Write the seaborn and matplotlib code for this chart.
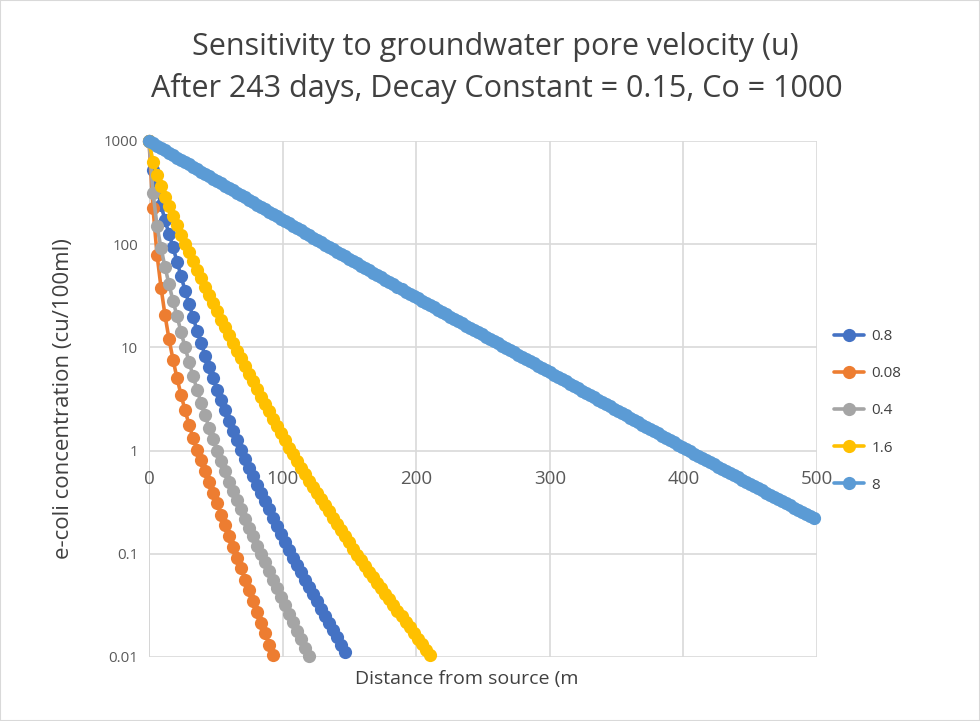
import numpy as np
import pandas as pd
import matplotlib
matplotlib.use("Agg")
import matplotlib.pyplot as plt
from matplotlib.lines import Line2D
from matplotlib.patches import Rectangle
import seaborn as sns

# distance grid used in the sheet (m)
STEP = 3
distance = list(range(0, 501, STEP))

# e-coli concentration (cu/100ml) per pore velocity
conc_u08 = [1000, 525, 347, 240, 170, 126, 93.3, 67.6, 49.0, 35.5, 26.3, 19.5,
            14.5, 11.0, 8.32, 6.46, 5.01, 3.89, 3.09, 2.45, 1.95, 1.55, 1.26, 1.02,
            0.832, 0.684, 0.562, 0.468, 0.389, 0.324, 0.269, 0.224, 0.186, 0.155,
            0.129, 0.108, 0.0912, 0.0776, 0.0661, 0.0562, 0.0479, 0.0407, 0.0347,
            0.0295, 0.0251, 0.0214, 0.0182, 0.0155, 0.0132, 0.0112]

conc_u008 = [1000, 224, 79.4, 38.0, 20.4, 12.0, 7.59, 5.01, 3.47, 2.45, 1.78, 1.32,
             1.02, 0.804, 0.631, 0.501, 0.389, 0.309, 0.240, 0.191, 0.148, 0.117,
             0.0912, 0.0724, 0.0562, 0.0447, 0.0347, 0.0275, 0.0214, 0.0170,
             0.0132, 0.0105]

conc_u04 = [1000, 316, 151, 91.2, 60.3, 40.7, 28.2, 20.0, 14.1, 10.0, 7.24, 5.25,
            3.89, 2.88, 2.19, 1.66, 1.29, 1.00, 0.794, 0.631, 0.501, 0.407, 0.331,
            0.269, 0.219, 0.178, 0.148, 0.120, 0.100, 0.0832, 0.0676, 0.0562,
            0.0468, 0.0380, 0.0316, 0.0263, 0.0219, 0.0178, 0.0148, 0.0123, 0.0102]

conc_u16 = [1000, 631, 468, 363, 288, 232, 188, 153, 124, 101, 83.2, 68.4, 56.2,
            46.8, 38.9, 32.4, 26.9, 22.4, 18.6, 15.7, 13.2, 11.1, 9.33, 7.85, 6.61,
            5.56, 4.68, 3.94, 3.31, 2.82, 2.40, 2.04, 1.74, 1.48, 1.26, 1.07, 0.923,
            0.794, 0.684, 0.589, 0.513, 0.447, 0.389, 0.339, 0.295, 0.257, 0.224,
            0.195, 0.170, 0.148, 0.129, 0.112, 0.0977, 0.0863, 0.0762, 0.0673,
            0.0594, 0.0525, 0.0463, 0.0409, 0.0361, 0.0319, 0.0282, 0.0249, 0.0220,
            0.0194, 0.0171, 0.0151, 0.0134, 0.0118, 0.0104]

conc_u8 = [1000, 949, 900, 854, 811, 769, 730, 692, 657, 623, 592, 561, 533, 505,
           480, 455, 432, 410, 389, 369, 350, 332, 315, 299, 284, 269, 255, 242, 230,
           218, 207, 196, 186, 177, 168, 159, 151, 143, 136, 129, 122, 116, 110, 105,
           99.3, 94.2, 89.4, 84.8, 80.5, 76.4, 72.4, 68.7, 65.2, 61.9, 58.7, 55.7,
           52.9, 50.2, 47.6, 45.2, 42.9, 40.7, 38.6, 36.6, 34.7, 33.0, 31.3, 29.8,
           28.3, 26.9, 25.6, 24.4, 23.2, 22.0, 21.0, 19.9, 19.0, 18.1, 17.2, 16.3,
           15.5, 14.8, 14.1, 13.4, 12.7, 12.1, 11.5, 11.0, 10.4, 9.91, 9.43, 8.97,
           8.53, 8.12, 7.72, 7.34, 6.99, 6.64, 6.32, 6.01, 5.72, 5.44, 5.17, 4.92,
           4.68, 4.44, 4.23, 4.02, 3.82, 3.63, 3.45, 3.29, 3.12, 2.97, 2.82, 2.69,
           2.55, 2.43, 2.31, 2.19, 2.09, 1.98, 1.89, 1.79, 1.71, 1.62, 1.54, 1.47,
           1.39, 1.33, 1.26, 1.20, 1.14, 1.08, 1.03, 0.983, 0.937, 0.893, 0.851,
           0.810, 0.772, 0.736, 0.701, 0.668, 0.636, 0.606, 0.578, 0.550, 0.524,
           0.500, 0.476, 0.453, 0.432, 0.412, 0.392, 0.374, 0.356, 0.339, 0.323,
           0.308, 0.294, 0.280, 0.267, 0.254, 0.242, 0.230, 0.220]

series_labels = ["0.8", "0.08", "0.4", "1.6", "8"]
series_values = [conc_u08, conc_u008, conc_u04, conc_u16, conc_u8]
series_colors = ["#4472C4", "#ED7D31", "#A5A5A5", "#FFC000", "#5B9BD5"]

y_ticks = [0.01, 0.1, 1, 10, 100, 1000]
y_ticklabels = ["0.01", "0.1", "1", "10", "100", "1000"]
x_ticks = [0, 100, 200, 300, 400, 500]

MS = 9.5
LW = 2.6


def build_frame():
    rows = []
    for lab, vals in zip(series_labels, series_values):
        for d, c in zip(distance, vals):
            rows.append({"distance": d, "conc": c, "u": lab})
    return pd.DataFrame(rows)


def main():
    df = build_frame()

    sns.set_theme(style="white")
    plt.rcParams["font.family"] = ["Open Sans", "DejaVu Sans"]

    fig = plt.figure(figsize=(9.8, 7.21), dpi=100)
    ax = fig.add_axes([149 / 980, 1 - 657 / 721, (817 - 149) / 980, (657 - 141) / 721])

    for lab, col in zip(series_labels, series_colors):
        sub = df[df["u"] == lab]
        sns.lineplot(data=sub, x="distance", y="conc", ax=ax, color=col,
                     marker="o", markersize=MS, markeredgewidth=0, linewidth=LW,
                     sort=False, estimator=None, legend=False, clip_on=False)

    ax.set_yscale("log")
    ax.set_ylim(0.01, 1000)
    ax.set_xlim(0, 500)
    ax.set_yticks(y_ticks)
    ax.set_yticklabels(y_ticklabels)
    ax.set_xticks(x_ticks)
    ax.minorticks_off()

    grid_c = "#d9d9d9"
    ax.grid(True, color=grid_c, linewidth=1.2)
    ax.set_axisbelow(True)
    for s in ["top", "right", "left"]:
        ax.spines[s].set_visible(False)
    # horizontal axis crosses at 1, like the Excel original
    ax.spines["bottom"].set_position(("data", 1))
    ax.spines["bottom"].set_visible(False)
    ax.axvline(0, color="#bfbfbf", linewidth=1.2, zorder=0.5)

    tick_c = "#595959"
    ax.tick_params(axis="x", length=0, pad=14, labelsize=13.5, colors=tick_c)
    ax.tick_params(axis="y", length=0, pad=8, labelsize=10.8, colors=tick_c)

    ax.set_xlabel("Distance from source (m", fontsize=14, color="#404040")
    ax.set_ylabel("e-coli concentration (cu/100ml)", fontsize=16, color="#404040")
    ax.xaxis.set_label_coords((467 - 149) / 668, -13 / 516)
    ax.yaxis.set_label_coords((74 - 149) / 668, 0.5)

    fig.text(495 / 980, 1 - 47 / 721, "Sensitivity to groundwater pore velocity (u)",
             ha="center", va="center", fontsize=22, color="#404040")
    fig.text(497 / 980, 1 - 88 / 721, "After 243 days, Decay Constant = 0.15, Co = 1000",
             ha="center", va="center", fontsize=22, color="#404040")

    handles = [Line2D([0], [0], color=c, linewidth=LW, marker="o", markersize=MS,
                      markeredgewidth=0) for c in series_colors]
    fig.legend(handles, series_labels, loc="center left",
               bbox_to_anchor=(820 / 980, 1 - 411 / 721), frameon=False,
               fontsize=11, handlelength=2.0, labelspacing=1.45, handletextpad=0.45,
               labelcolor="#404040")

    fig.patches.append(Rectangle((0, 0), 1, 1, transform=fig.transFigure,
                                 fill=False, edgecolor="#d9d9d9", linewidth=1.5))

    fig.savefig("out.png", dpi=100)
    plt.close(fig)


if __name__ == "__main__":
    main()
